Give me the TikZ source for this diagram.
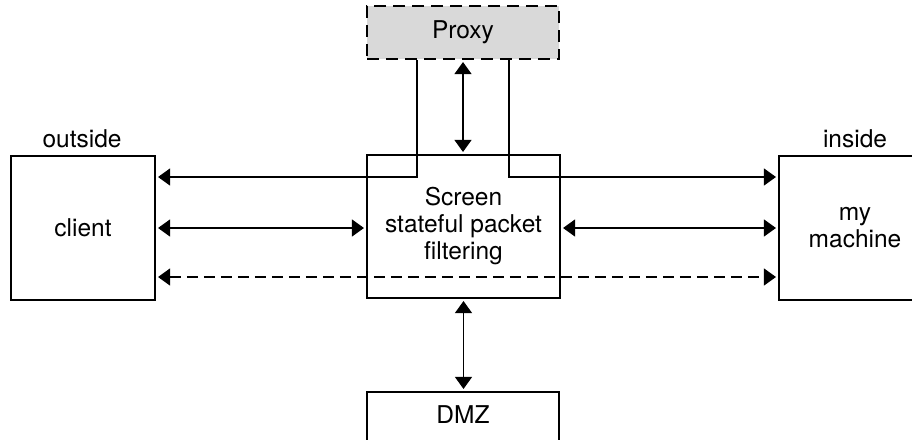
\documentclass[tikz,border=0pt]{standalone}
\usepackage{fontspec}
\setmainfont{TeX Gyre Heros}
\usetikzlibrary{arrows.meta}
\definecolor{proxygray}{HTML}{D9D9D9}
\tikzset{
  box/.style={draw=black, line width=1.1pt, rectangle, inner sep=0pt, align=center,
    font=\fontsize{24.5}{27}\selectfont},
  proxybox/.style={box, fill=proxygray, dash pattern=on 12pt off 7pt},
  label/.style={anchor=base, inner sep=0pt, font=\fontsize{24.5}{27}\selectfont},
  tip/.tip={Triangle[length=12pt,width=17pt]},
  link/.style={line width=1.1pt, -tip, shorten >=2.5pt},
  duplex/.style={line width=1.1pt, tip-tip, shorten >=2.5pt, shorten <=2.5pt},
  flowdash/.style={dash pattern=on 11pt off 6pt},
}
\begin{document}
\begin{tikzpicture}[x=1pt, y=1pt]
  \clip (0,0) rectangle (912,-439);

  % boxes
  \node[box, minimum width=144pt, minimum height=144pt] (client) at (83,-228) {client};
  \node[box, minimum width=193pt, minimum height=143pt] (screen) at (463.5,-226.5)
    {Screen\\stateful packet\\filtering};
  \node[box, minimum width=152pt, minimum height=144pt] (machine) at (855,-228) {my\\machine};
  \node[proxybox, minimum width=192pt, minimum height=53pt] (proxy) at (463,-32.5) {Proxy};
  % the DMZ box runs past the lower edge; its label sits near the top
  \node[box, minimum width=192pt, minimum height=78pt, text height=17.5pt, text depth=32pt]
    (dmz) at (463,-431) {DMZ};

  % zone labels
  \node[label] (outside) at (82,-147) {outside};
  \node[label] (inside) at (855,-147) {inside};

  % routes through the proxy
  \coordinate (pl) at (417,-177);
  \coordinate (pr) at (509,-177);
  \draw[link] (proxy.south -| pl) -- (pl) -- (client.east |- pl);
  \draw[link] (proxy.south -| pr) -- (pr) -- (machine.west |- pr);

  % direct routes
  \draw[duplex] (client.east) -- (client.east -| screen.west);
  \draw[duplex] (screen.east |- machine.west) -- (machine.west);
  \coordinate (dl) at (0,-277);
  \draw[duplex, flowdash] (client.east |- dl) -- (machine.west |- dl);

  % vertical links
  \draw[duplex] (proxy.south) -- (proxy.south |- screen.north);
  \draw[duplex] (screen.south) -- (screen.south |- dmz.north);
\end{tikzpicture}
\end{document}
